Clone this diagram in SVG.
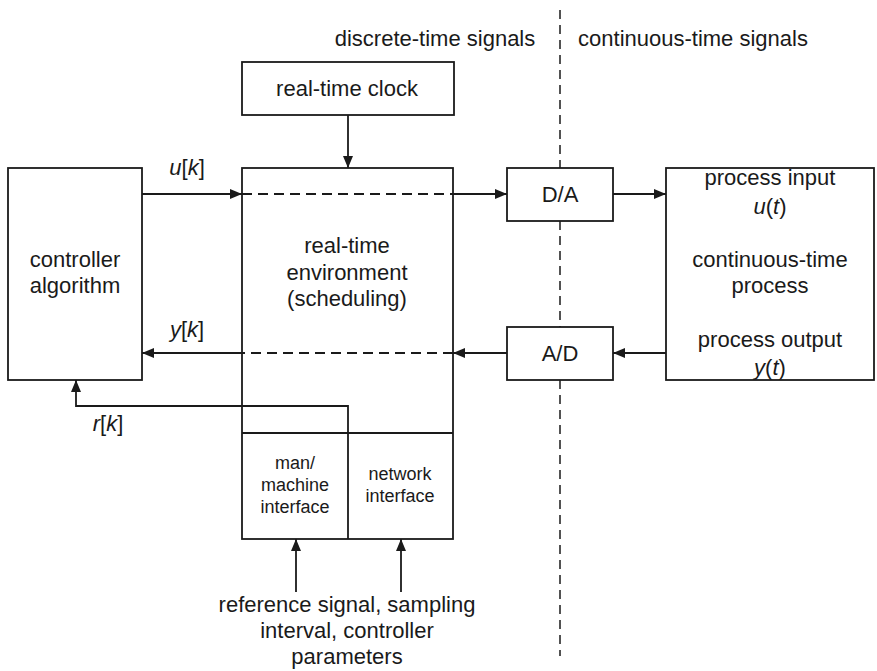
<svg xmlns="http://www.w3.org/2000/svg" width="877" height="671" viewBox="0 0 877 671">
<defs>
<marker id="arr" markerWidth="12" markerHeight="10" refX="12" refY="5" orient="auto" markerUnits="userSpaceOnUse">
<path d="M0,0 L12,5 L0,10 Z" fill="#1a1a1a"/>
</marker>
<style>
.box{fill:#fff;stroke:#1a1a1a;stroke-width:1.8}
.ln{fill:none;stroke:#1a1a1a;stroke-width:1.8}
.dash{fill:none;stroke:#1a1a1a;stroke-width:1.8;stroke-dasharray:10 6}
.vdash{fill:none;stroke:#1a1a1a;stroke-width:1.5;stroke-dasharray:9 6}
text{font-family:"Liberation Sans",Arial,sans-serif;font-size:22px;fill:#1a1a1a;text-anchor:middle}
.sm{font-size:18px}
.it{font-style:italic}
</style>
</defs>
<rect width="877" height="671" fill="#fff"/>

<g id="labels">
<text x="435" y="46">discrete-time signals</text>
<text x="693" y="46">continuous-time signals</text>
<text x="187" y="175"><tspan class="it">u</tspan>[<tspan class="it">k</tspan>]</text>
<text x="187" y="337"><tspan class="it">y</tspan>[<tspan class="it">k</tspan>]</text>
<text x="108" y="431"><tspan class="it">r</tspan>[<tspan class="it">k</tspan>]</text>
<text x="347" y="612">reference signal, sampling</text>
<text x="347" y="638">interval, controller</text>
<text x="347" y="664">parameters</text>
</g>

<g id="clock">
<rect class="box" x="242" y="62" width="212" height="53"/>
<text x="347" y="96">real-time clock</text>
</g>

<g id="controller">
<rect class="box" x="8" y="168" width="134" height="212"/>
<text x="75" y="267">controller</text>
<text x="75" y="293">algorithm</text>
</g>

<g id="rte">
<rect class="box" x="242" y="168" width="211" height="371"/>
<text x="347" y="253">real-time</text>
<text x="347" y="280">environment</text>
<text x="347" y="306">(scheduling)</text>
<line class="ln" x1="242" y1="433" x2="453" y2="433"/>
</g>

<g id="mmi">
<text class="sm" x="295" y="469">man/</text>
<text class="sm" x="295" y="491">machine</text>
<text class="sm" x="295" y="513">interface</text>
</g>

<g id="netif">
<text class="sm" x="400" y="480">network</text>
<text class="sm" x="400" y="502">interface</text>
</g>

<g id="da">
<rect class="box" x="507" y="168" width="106" height="53"/>
<text x="560" y="202">D/A</text>
</g>

<g id="ad">
<rect class="box" x="507" y="327" width="106" height="53"/>
<text x="560" y="361">A/D</text>
</g>

<g id="process">
<rect class="box" x="666" y="168" width="208" height="212"/>
<text x="770" y="185">process input</text>
<text x="770" y="214"><tspan class="it">u</tspan>(<tspan class="it">t</tspan>)</text>
<text x="770" y="267">continuous-time</text>
<text x="770" y="293">process</text>
<text x="770" y="347">process output</text>
<text x="770" y="375"><tspan class="it">y</tspan>(<tspan class="it">t</tspan>)</text>
</g>

<g id="connectors">
<line class="vdash" x1="560" y1="10" x2="560" y2="168"/>
<line class="vdash" x1="560" y1="221" x2="560" y2="327"/>
<line class="vdash" x1="560" y1="380" x2="560" y2="656"/>
<line class="ln" x1="348" y1="115" x2="348" y2="168" marker-end="url(#arr)"/>
<line class="ln" x1="142" y1="194" x2="242" y2="194" marker-end="url(#arr)"/>
<line class="dash" x1="242" y1="194" x2="453" y2="194"/>
<line class="ln" x1="453" y1="194" x2="507" y2="194" marker-end="url(#arr)"/>
<line class="ln" x1="613" y1="194" x2="666" y2="194" marker-end="url(#arr)"/>
<line class="ln" x1="666" y1="353" x2="613" y2="353" marker-end="url(#arr)"/>
<line class="ln" x1="507" y1="353" x2="453" y2="353" marker-end="url(#arr)"/>
<line class="dash" x1="453" y1="353" x2="242" y2="353"/>
<line class="ln" x1="242" y1="353" x2="142" y2="353" marker-end="url(#arr)"/>
<path class="ln" d="M348,539 L348,406 L76,406 L76,380" marker-end="url(#arr)"/>
<line class="ln" x1="296" y1="592" x2="296" y2="539" marker-end="url(#arr)"/>
<line class="ln" x1="401" y1="592" x2="401" y2="539" marker-end="url(#arr)"/>
</g>
</svg>
